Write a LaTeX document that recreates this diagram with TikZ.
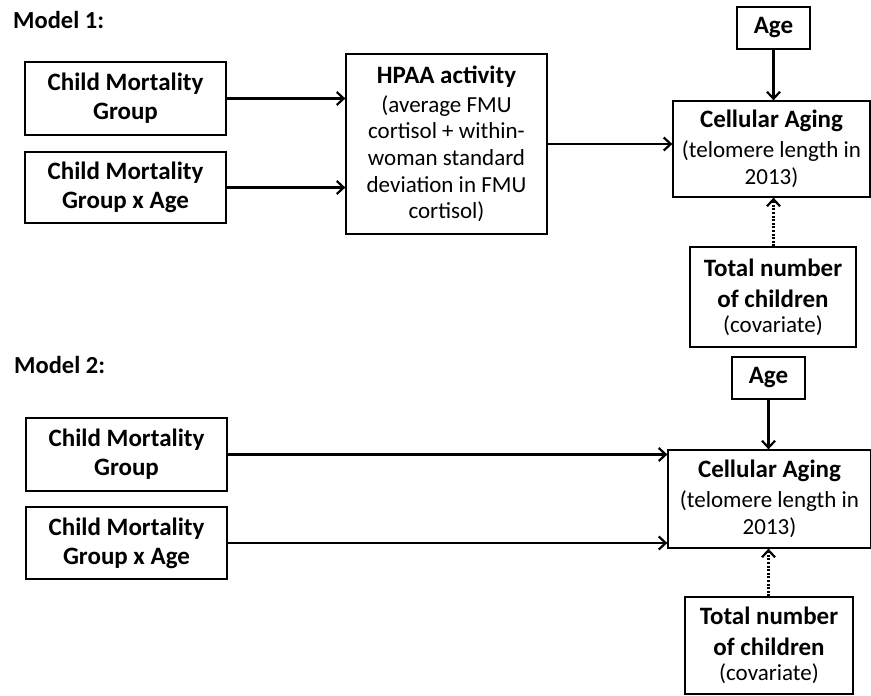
\documentclass[tikz,border=0pt]{standalone}
\usepackage{fontspec}
\setmainfont{Carlito}
\usetikzlibrary{arrows.meta}
\tikzset{
  box/.style={draw, line width=1.3pt, align=center, inner sep=0pt, font=\fontsize{23}{26.7}\selectfont},
  conn/.style={line width=2.6pt, -{Straight Barb[length=7pt,width=13pt,line width=2.2pt]}},
  dotconn/.style={line width=2.6pt, dash pattern=on 2pt off 1.6pt, -{Straight Barb[length=7pt,width=13pt,line width=2.2pt]}},
  ttl/.style={anchor=base west, inner sep=0pt, font=\fontsize{24.5}{28}\selectfont\bfseries},
}
\newcommand{\bl}[1]{{\fontsize{25}{29}\selectfont\bfseries #1}}
\begin{document}
\begin{tikzpicture}[x=1pt,y=-1pt]
\useasboundingbox (0,0) rectangle (871,696);
% Model 1
\node[ttl] (m1) at (13,28) {Model 1:};
\node[box, minimum width=201pt, minimum height=73pt] (cmg1) at (125.5,98.5) {\bl{Child Mortality}\\[2.3pt]\bl{Group}};
\node[box, minimum width=201pt, minimum height=71pt] (cmga1) at (125.5,187.5) {\bl{Child Mortality}\\[2.3pt]\bl{Group x Age}};
\node[box, minimum width=201pt, minimum height=180pt] (hpaa) at (446.5,144) {\bl{HPAA activity}\\[2pt](average FMU\\cortisol + within-\\woman standard\\deviation in FMU\\cortisol)};
\node[box, minimum width=73pt, minimum height=42pt] (age1) at (773.5,28) {\bl{Age}};
\node[box, minimum width=197pt, minimum height=96pt] (cell1) at (771.5,149) {\bl{Cellular Aging}\\[3.3pt](telomere length in\\2013)};
\node[box, minimum width=166pt, minimum height=100pt] (tot1) at (773,297) {\bl{Total number}\\[4pt]\bl{of children}\\[-1.7pt](covariate)};
\draw[conn] (cmg1.east) -- (cmg1.east -| hpaa.west);
\draw[conn] (cmga1.east) -- (cmga1.east -| hpaa.west);
\draw[conn] (hpaa.east) -- (hpaa.east -| cell1.west);
\draw[conn] (age1.south) -- (age1.south |- cell1.north);
\draw[dotconn] (tot1.north -| age1.south) -- (age1.south |- cell1.south);
% Model 2
\node[ttl] (m2) at (14,373) {Model 2:};
\node[box, minimum width=201pt, minimum height=73pt] (cmg2) at (126.5,454.5) {\bl{Child Mortality}\\[2.3pt]\bl{Group}};
\node[box, minimum width=201pt, minimum height=72pt] (cmga2) at (126.5,543) {\bl{Child Mortality}\\[2.3pt]\bl{Group x Age}};
\node[box, minimum width=73pt, minimum height=42pt] (age2) at (768.5,378) {\bl{Age}};
\node[box, minimum width=203pt, minimum height=98pt] (cell2) at (769.5,499) {\bl{Cellular Aging}\\[3.3pt](telomere length in\\2013)};
\node[box, minimum width=168pt, minimum height=97pt] (tot2) at (769,645.5) {\bl{Total number}\\[4pt]\bl{of children}\\[-1.7pt](covariate)};
\draw[conn] (cmg2.east) -- (cmg2.east -| cell2.west);
\draw[conn] (cmga2.east) -- (cmga2.east -| cell2.west);
\draw[conn] (age2.south) -- (age2.south |- cell2.north);
\draw[dotconn] (tot2.north -| age2.south) -- (age2.south |- cell2.south);
\end{tikzpicture}
\end{document}
